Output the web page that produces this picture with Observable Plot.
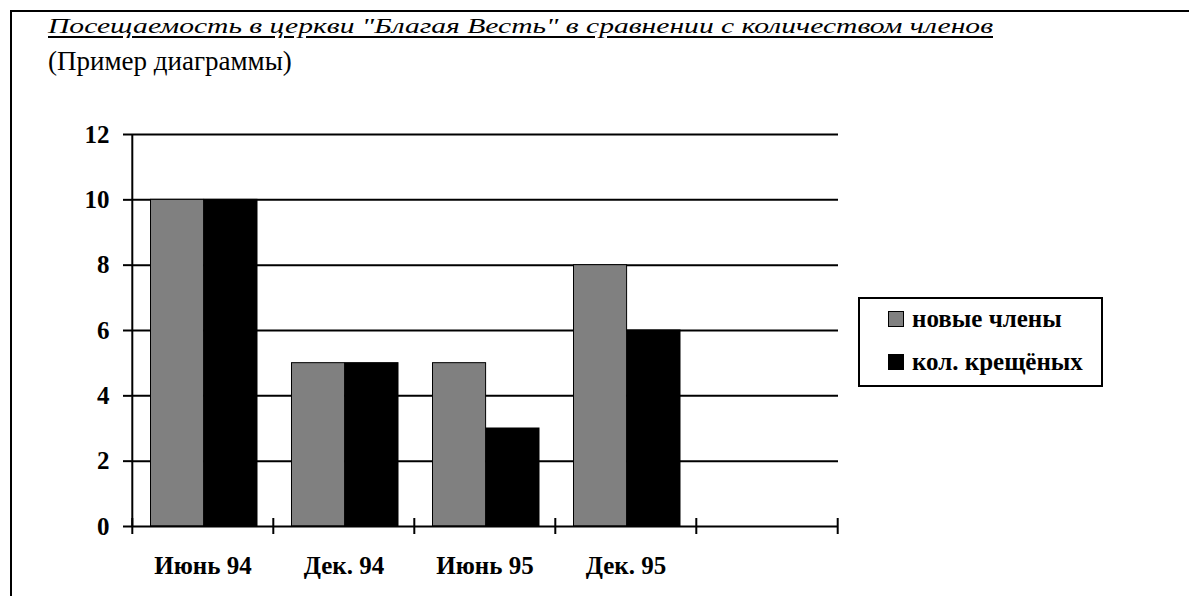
<!DOCTYPE html>
<html>
<head>
<meta charset="utf-8">
<script src="https://cdn.jsdelivr.net/npm/d3@7"></script>
<script src="https://cdn.jsdelivr.net/npm/@observablehq/plot@0.6"></script>
<style>
  html, body { margin: 0; padding: 0; background: #fff; width: 1189px; height: 596px; overflow: hidden; color: #000; }
  body, #title, #subtitle, #legend, .item, .lbl { font-family: 'Liberation Serif', serif; }
  #frame { position: absolute; left: 10px; top: 10px; width: 1400px; height: 800px;
    border-left: 2px solid #000; border-top: 2px solid #000; }
  #title { position: absolute; left: 48px; top: 16px; font-size: 21px; line-height: 1; font-style: italic;
    text-decoration: underline; text-decoration-thickness: 2px; text-underline-offset: 3px;
    white-space: nowrap; transform-origin: 0 0; }
  #subtitle { position: absolute; left: 48px; top: 48px; font-size: 27px; line-height: 1; white-space: nowrap; }
  #chart { position: absolute; left: 0; top: 110px; }
  #chart svg text { font-family: 'Liberation Serif', serif; }
  #legend { position: absolute; left: 858px; top: 297px; width: 241px; height: 86px; border: 2px solid #000; background: #fff; }
  .item { position: absolute; left: 0; height: 25px; font-size: 25px; line-height: 1; font-weight: bold; white-space: nowrap; }
  .sw { position: absolute; width: 14px; height: 14px; border: 1px solid #000; }
  .lbl { position: absolute; left: 52px; }
</style>
</head>
<body>
<div id="frame"></div>
<div id="title"></div>
<div id="subtitle"></div>
<div id="chart"></div>
<div id="legend"></div>
<script>
const titleText = "Посещаемость в церкви \"Благая Весть\" в сравнении с количеством членов";
const subtitleText = "(Пример диаграммы)";
const categories = ["Июнь 94", "Дек. 94", "Июнь 95", "Дек. 95", ""];
const seriesNames = ["новые члены", "кол. крещёных"];
const newMembers = [10, 5, 5, 8];
const baptized = [10, 5, 3, 6];
const yTicks = [0, 2, 4, 6, 8, 10, 12];
const seriesColors = ["#808080", "#000000"];

document.getElementById("title").textContent = titleText;
document.getElementById("subtitle").textContent = subtitleText;

const W = 1189, H = 486, ML = 131, MR = 351, MT = 24, MB = 70;
const bw = (W - ML - MR) / categories.length;

const rowsNew = newMembers.map((v, i) => ({cat: categories[i], value: v}));
const rowsBap = baptized.map((v, i) => ({cat: categories[i], value: v}));

const chart = Plot.plot({
  width: W, height: H,
  marginLeft: ML, marginRight: MR, marginTop: MT, marginBottom: MB,
  style: {fontFamily: "'Liberation Serif', serif", background: "transparent", color: "#000", overflow: "visible"},
  x: {domain: categories, padding: 0, axis: null},
  y: {domain: [0, 12], axis: null},
  marks: [
    Plot.gridY(yTicks.filter(d => d > 0), {stroke: "#000", strokeOpacity: 1, strokeWidth: 2}),
    Plot.barY(rowsNew, {x: "cat", y: "value", fill: seriesColors[0], stroke: "#000", strokeWidth: 1,
      insetLeft: 18.5, insetRight: bw - 72}),
    Plot.barY(rowsBap, {x: "cat", y: "value", fill: seriesColors[1], stroke: "#000", strokeWidth: 1,
      insetLeft: 72, insetRight: 16}),
    Plot.ruleY([0], {stroke: "#000", strokeWidth: 2}),
    Plot.ruleX([categories[0]], {dx: -bw / 2, y1: 0, y2: 12, stroke: "#000", strokeWidth: 2}),
    Plot.ruleX(categories, {dx: -bw / 2, y1: 0, y2: 0, insetTop: -8, insetBottom: -8, stroke: "#000", strokeWidth: 2}),
    Plot.ruleX([categories[categories.length - 1]], {dx: bw / 2, y1: 0, y2: 0, insetTop: -8, insetBottom: -8, stroke: "#000", strokeWidth: 2}),
    Plot.axisY(yTicks, {tickSize: 8, tickPadding: 14, fontSize: 25, fontWeight: "bold", strokeWidth: 2, label: null}),
    Plot.axisX({tickSize: 0, tickPadding: 30, fontSize: 25, fontWeight: "bold", label: null})
  ]
});
document.getElementById("chart").appendChild(chart);

// legend
const legend = document.getElementById("legend");
const itemTops = [7, 50];
seriesNames.forEach((name, i) => {
  const it = document.createElement("div");
  it.className = "item";
  it.style.top = itemTops[i] + "px";
  const sw = document.createElement("div");
  sw.className = "sw";
  sw.style.left = "28px";
  sw.style.top = "5px";
  sw.style.background = seriesColors[i];
  const lb = document.createElement("div");
  lb.className = "lbl";
  lb.textContent = name;
  it.appendChild(sw); it.appendChild(lb);
  legend.appendChild(it);
});

// stretch title to the reference width
const t = document.getElementById("title");
const w = t.getBoundingClientRect().width;
t.style.transform = `scaleX(${945 / w})`;
</script>
</body>
</html>
